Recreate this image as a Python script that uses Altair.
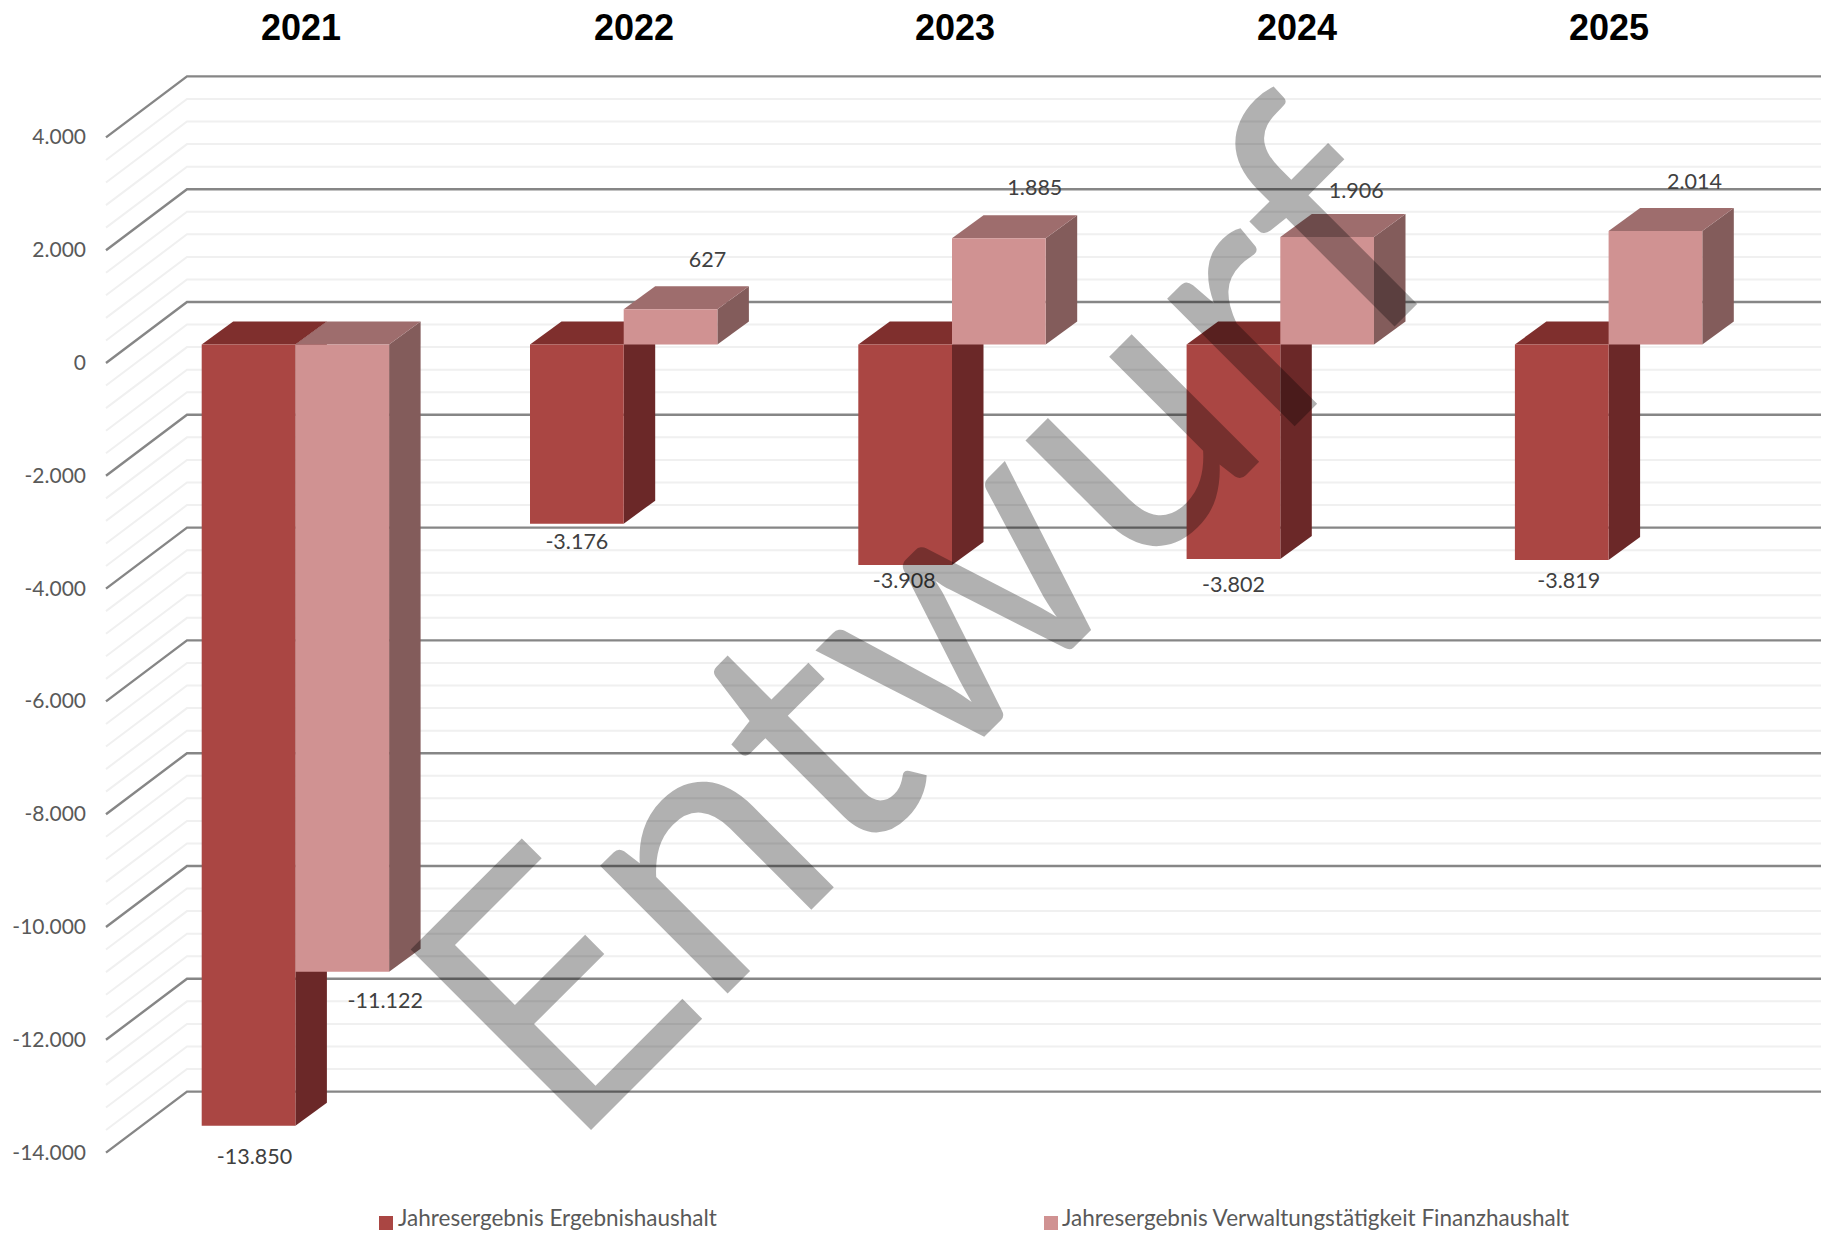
import altair as alt
import pandas as pd

# ---------- data ----------
years = ["2021", "2022", "2023", "2024", "2025"]
ergebnis = [-13850, -3176, -3908, -3802, -3819]
finanz = [-11122, 627, 1885, 1906, 2014]
series_names = ["Jahresergebnis Ergebnishaushalt", "Jahresergebnis Verwaltungstätigkeit Finanzhaushalt"]
major_ticks = [4000, 2000, 0, -2000, -4000, -6000, -8000, -10000, -12000, -14000]
watermark = ["Entwurf"]

# ---------- layout (page pixels) ----------
W, H = 1813, 1223
PX = 0.0564           # pixels per value unit
Y0 = 363              # y of value 0 on the front wall edge
WALL_L, WALL_B, WALL_R = 106, 187, 1829
WALL_DY = 61
BAR_DY = 18.5         # bars sit 18.5 px behind the front edge
DEPTH_X, DEPTH_Y = 31.5, 23
GROUP_X0, GROUP_STEP, BAR_W = 201.7, 328.3, 93.7
YEAR_CX = [301, 634, 955, 1297, 1609]
DARK = ("#AA4643", "#7F2F2D", "#6B2828")
LIGHT = ("#D09292", "#9E6D6D", "#835C5B")
ERG_OFF = [(6, 32.5), (0, 19.5), (-1, 17), (0, 27), (7, 22)]
FIN_OFF = [(43, 30), (37, -48), (36, -49), (29, -45), (39, -48)]
TEXT_FONT = "Lato"

def ux(px):
    return px - 8

def uy(px):
    return (Y0 - px) / PX

xs = alt.Scale(domain=[0, W], range=[0, W], nice=False, zero=False)
ys = alt.Scale(domain=[uy(8 + H), uy(8)], range=[H, 0], nice=False, zero=False)

def X(f="x"):
    return alt.X(f, type="quantitative", scale=xs, axis=None)

def Y(f="y"):
    return alt.Y(f, type="quantitative", scale=ys, axis=None)

def fmt(v):
    return f"{v:,}".replace(",", ".")

# ---------- wall lines ----------
def wall_lines(values):
    rows = []
    for v in values:
        front = Y0 - v * PX
        back = front - WALL_DY
        for px, py in [(WALL_L, front), (WALL_B, back), (WALL_R, back)]:
            rows.append({"id": v, "x": ux(px), "y": uy(py)})
    return pd.DataFrame(rows)

minor_vals = [t - 400 * k for t in major_ticks[:-1] for k in range(1, 5)]

minor = alt.Chart(wall_lines(minor_vals)).mark_line(color="#F0F0F0", strokeWidth=2).encode(
    x=X(), y=Y(), detail="id:N")
major = alt.Chart(wall_lines(major_ticks)).mark_line(color="#868686", strokeWidth=2.4).encode(
    x=X(), y=Y(), detail="id:N")

# ---------- value axis labels ----------
tick_df = pd.DataFrame({
    "x": [ux(86)] * len(major_ticks),
    "y": [uy(Y0 - v * PX + 1) for v in major_ticks],
    "t": [fmt(v) for v in major_ticks],
})
tick_labels = alt.Chart(tick_df).mark_text(
    font=TEXT_FONT, fontSize=21, color="#595959", baseline="middle", align="right"
).encode(x=X(), y=Y(), text="t:N")

# ---------- 3D bars ----------
def bar_layers(values, slot, colors):
    front, top, side = [], [], []
    for i, v in enumerate(values):
        left = GROUP_X0 + GROUP_STEP * i + BAR_W * slot
        right = left + BAR_W
        y_zero = Y0 - BAR_DY
        y_val = y_zero - v * PX
        y_top = min(y_zero, y_val)
        y_bot = max(y_zero, y_val)
        front.append({"x": ux(left), "x2": ux(right), "y": uy(y_top), "y2": uy(y_bot)})
        top.append({"id": i, "y": uy(y_top), "x": ux(left), "x2": ux(right)})
        top.append({"id": i, "y": uy(y_top - DEPTH_Y), "x": ux(left + DEPTH_X), "x2": ux(right + DEPTH_X)})
        side.append({"id": i, "x": ux(right), "y": uy(y_top), "y2": uy(y_bot)})
        side.append({"id": i, "x": ux(right + DEPTH_X), "y": uy(y_top - DEPTH_Y), "y2": uy(y_bot - DEPTH_Y)})
    c_front, c_top, c_side = colors
    return [
        alt.Chart(pd.DataFrame(side)).mark_area(orient="vertical", color=c_side).encode(
            x=X(), y=Y(), y2="y2:Q", detail="id:N"),
        alt.Chart(pd.DataFrame(top)).mark_area(orient="horizontal", color=c_top).encode(
            y=Y(), x=X(), x2="x2:Q", detail="id:N"),
        alt.Chart(pd.DataFrame(front)).mark_rect(color=c_front).encode(
            x=X(), x2="x2:Q", y=Y(), y2="y2:Q"),
    ]

# ---------- value labels ----------
label_rows = []
for slot, (vals, offs) in enumerate([(ergebnis, ERG_OFF), (finanz, FIN_OFF)]):
    for i, (v, (dx, dy)) in enumerate(zip(vals, offs)):
        cx = GROUP_X0 + GROUP_STEP * i + BAR_W * (slot + 0.5)
        py = Y0 - BAR_DY - v * PX
        label_rows.append({"x": ux(cx + dx), "y": uy(py + dy), "t": fmt(v)})
labels = alt.Chart(pd.DataFrame(label_rows)).mark_text(
    font=TEXT_FONT, fontSize=21.5, color="#404040", baseline="middle", align="center"
).encode(x=X(), y=Y(), text="t:N")

# ---------- year headings ----------
year_df = pd.DataFrame({"x": [ux(c) for c in YEAR_CX], "y": [uy(28.5)] * 5, "t": years})
year_text = alt.Chart(year_df).mark_text(
    font="Liberation Sans", fontWeight="bold", fontSize=36, color="#000000",
    baseline="middle", align="center"
).encode(x=X(), y=Y(), text="t:N")

# ---------- legend ----------
leg_sw = pd.DataFrame({"x": [ux(386), ux(1051)], "y": [uy(1223)] * 2, "c": series_names})
legend_sw = alt.Chart(leg_sw).mark_square(size=196, opacity=1, filled=True).encode(
    x=X(), y=Y(),
    color=alt.Color("c:N", scale=alt.Scale(domain=series_names, range=[DARK[0], LIGHT[0]]), legend=None))
leg_tx = pd.DataFrame({"x": [ux(398), ux(1062)], "y": [uy(1219)] * 2, "t": series_names})
legend_tx = alt.Chart(leg_tx).mark_text(
    font=TEXT_FONT, fontSize=22.5, color="#595959", baseline="middle", align="left"
).encode(x=X(), y=Y(), text="t:N")

# ---------- watermark ----------
wm_df = pd.DataFrame({"x": [ux(568)], "y": [uy(1153)], "t": watermark})
wm = alt.Chart(wm_df).mark_text(
    font="Lato", fontSize=356, color="#000000", opacity=0.3,
    angle=315, align="left", baseline="alphabetic"
).encode(x=X(), y=Y(), text="t:N")

chart = alt.layer(
    minor, major, tick_labels,
    *bar_layers(ergebnis, 0, DARK),
    *bar_layers(finanz, 1, LIGHT),
    labels, year_text, legend_sw, legend_tx, wm,
).properties(
    width=W, height=H, padding=0,
    autosize=alt.AutoSizeParams(type="none"),
    background="#FFFFFF",
).configure_view(stroke=None)

chart.save("out.html", embed_options={"renderer": "svg", "actions": False})
